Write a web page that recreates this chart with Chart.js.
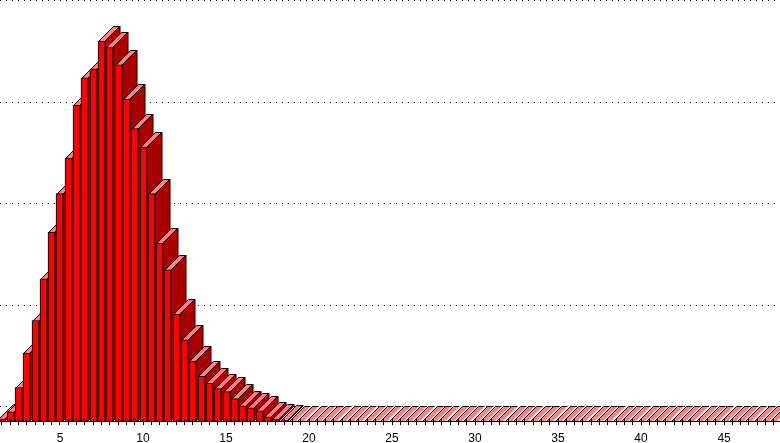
<!DOCTYPE html>
<html>
<head>
<meta charset="utf-8">
<style>
html, body { margin: 0; padding: 0; background: #fff; }
canvas { display: block; }
</style>
<script src="https://cdn.jsdelivr.net/npm/chart.js@4/dist/chart.umd.js"></script>
</head>
<body>
<canvas id="chart" width="780" height="443"></canvas>
<script>
const categories = [
  1.5, 2, 2.5, 3, 3.5, 4, 4.5, 5, 5.5, 6, 6.5, 7, 7.5, 8, 8.5, 9, 9.5, 10, 10.5, 11,
  11.5, 12, 12.5, 13, 13.5, 14, 14.5, 15, 15.5, 16, 16.5, 17, 17.5, 18, 18.5, 19, 19.5, 20, 20.5, 21,
  21.5, 22, 22.5, 23, 23.5, 24, 24.5, 25, 25.5, 26, 26.5, 27, 27.5, 28, 28.5, 29, 29.5, 30, 30.5, 31,
  31.5, 32, 32.5, 33, 33.5, 34, 34.5, 35, 35.5, 36, 36.5, 37, 37.5, 38, 38.5, 39, 39.5, 40, 40.5, 41,
  41.5, 42, 42.5, 43, 43.5, 44, 44.5, 45, 45.5, 46, 46.5, 47, 47.5, 48, 48.5
];
const values = [
  0.02, 0.09, 0.33, 0.67, 0.99, 1.40, 1.86, 2.24, 2.59, 3.11, 3.38, 3.47, 3.74, 3.68, 3.51, 3.17, 2.88, 2.70, 2.24, 1.75,
  1.49, 1.05, 0.80, 0.59, 0.44, 0.37, 0.32, 0.29, 0.22, 0.15, 0.13, 0.10, 0.04, 0.02, 0.01, 0, 0, 0, 0, 0,
  0, 0, 0, 0, 0, 0, 0, 0, 0, 0, 0, 0, 0, 0, 0, 0, 0, 0, 0, 0,
  0, 0, 0, 0, 0, 0, 0, 0, 0, 0, 0, 0, 0, 0, 0, 0, 0, 0, 0, 0,
  0, 0, 0, 0, 0, 0, 0, 0, 0, 0, 0, 0, 0, 0, 0
];
const gridValues = [0, 1, 2, 3, 4];

const depth = 15;	// 3D offset of the bars, to the right and up
const frontColor = '#ff0000';
const sideColor = '#a80000';
const topColor = '#ff8080';

// each bar paints its side and top first, the library then paints the front
const drawFront = Chart.BarElement.prototype.draw;
Chart.BarElement.prototype.draw = function (ctx) {
  const rawX = this.x;
  this.x = Math.floor(rawX) + 0.5;	// keep the edges on whole pixels
  const left = this.x - 3.5;
  const right = this.x + 3.5;
  const top = Math.round(this.y);
  const base = Math.round(this.base);

  ctx.save();
  ctx.lineWidth = 1;
  ctx.strokeStyle = '#000';
  if (base > top) {
    ctx.fillStyle = sideColor;
    ctx.beginPath();
    ctx.moveTo(right, top);
    ctx.lineTo(right + depth, top - depth);
    ctx.lineTo(right + depth, base - depth);
    ctx.lineTo(right, base);
    ctx.closePath();
    ctx.fill();
    ctx.stroke();
  }
  ctx.fillStyle = topColor;
  ctx.beginPath();
  ctx.moveTo(left + 0.5, top + 0.5);
  ctx.lineTo(left + depth + 0.5, top - depth + 0.5);
  ctx.lineTo(right + depth - 0.5, top - depth + 0.5);
  ctx.lineTo(right - 0.5, top + 0.5);
  ctx.closePath();
  ctx.fill();
  // empty bars show only a stripe: no right edge, so the white gap stays clean
  ctx.beginPath();
  ctx.moveTo(left + 0.5, top + 0.5);
  ctx.lineTo(left + depth + 0.5, top - depth + 0.5);
  ctx.lineTo(right + depth - 0.5, top - depth + 0.5);
  if (base > top) {
    ctx.lineTo(right - 0.5, top + 0.5);
  }
  ctx.stroke();
  ctx.restore();

  if (base > top) {
    drawFront.call(this, ctx);
  }
  this.x = rawX;
};

const backGrid = {
  id: 'backGrid',
  beforeDatasetsDraw(chart) {
    const ctx = chart.ctx;
    const y = chart.scales.y;
    ctx.save();
    ctx.strokeStyle = '#000';
    ctx.lineWidth = 1;
    ctx.setLineDash([1, 5]);
    gridValues.forEach(function (v) {
      const py = Math.round(y.getPixelForValue(v)) - depth + 0.5;
      ctx.beginPath();
      ctx.moveTo(chart.chartArea.left, py);
      ctx.lineTo(chart.chartArea.right, py);
      ctx.stroke();
    });
    ctx.restore();
  }
};

new Chart(document.getElementById('chart'), {
  type: 'bar',
  data: {
    labels: categories,
    datasets: [{
      data: values,
      backgroundColor: frontColor,
      borderColor: '#000',
      borderWidth: 1,
      barThickness: 7,
      clip: false
    }]
  },
  options: {
    responsive: false,
    animation: false,
    layout: { padding: 0 },
    plugins: { legend: { display: false }, tooltip: { enabled: false } },
    scales: {
      x: {
        type: 'linear',
        offset: false,
        min: 1.386,
        max: 48.37,
        grid: { display: false, drawTicks: false, offset: false },
        border: { display: false },
        afterBuildTicks(scale) {
          scale.ticks = categories.map(function (c) { return { value: c }; });
        },
        afterFit(scale) {
          scale.height = 22;
          scale.paddingLeft = 0;
          scale.paddingRight = 0;
        },
        ticks: {
          autoSkip: false,
          maxRotation: 0,
          padding: 10,
          color: '#000',
          font: { family: 'Liberation Sans', size: 12 },
          callback: function (v) { return v % 5 === 0 ? String(v) : ''; }
        }
      },
      y: {
        display: false,
        min: 0,
        max: 4.148
      }
    }
  },
  plugins: [backGrid, {
    id: 'xTicks',
    afterDatasetsDraw(chart) {
      const ctx = chart.ctx;
      const xs = chart.scales.x;
      const base = Math.round(chart.scales.y.getPixelForValue(0));
      ctx.save();
      ctx.strokeStyle = '#000';
      ctx.beginPath();
      ctx.moveTo(0, base + 0.5);
      ctx.lineTo(780, base + 0.5);
      categories.forEach(function (c) {
        const px = Math.floor(xs.getPixelForValue(c)) + 0.5;
        ctx.moveTo(px, base - 2);
        ctx.lineTo(px, base + 4);
      });
      ctx.stroke();
      ctx.restore();
    }
  }]
});
</script>
</body>
</html>
